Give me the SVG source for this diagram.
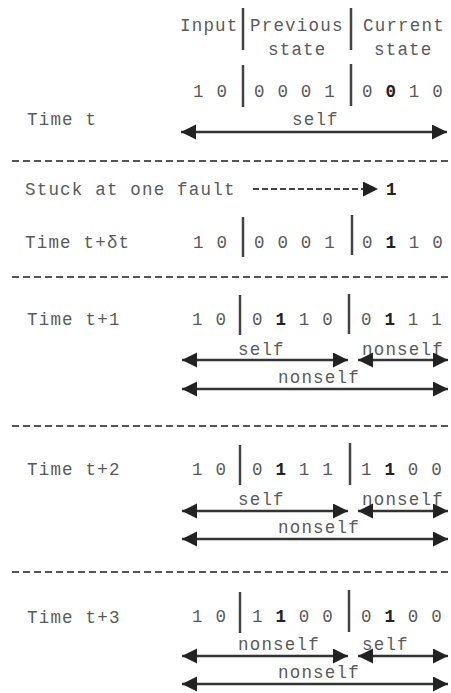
<svg xmlns="http://www.w3.org/2000/svg" width="451" height="693" viewBox="0 0 451 693">
<style>
text{font-family:"Liberation Mono","DejaVu Sans Mono",monospace;font-size:17.5px;letter-spacing:1.2px;fill:#5a5a5a;white-space:pre}
.b{font-weight:bold;fill:#222}
.bar{stroke:#444;stroke-width:2.5}
.arr{stroke:#333;stroke-width:2.5;fill:none;marker-start:url(#ah);marker-end:url(#ah)}
.sep{stroke:#555;stroke-width:2;stroke-dasharray:7 4}
.dar{stroke:#444;stroke-width:2;stroke-dasharray:6 3;marker-end:url(#ah)}
</style>
<defs>
<marker id="ah" markerUnits="userSpaceOnUse" markerWidth="16" markerHeight="16" refX="15" refY="7.5" orient="auto-start-reverse" viewBox="0 0 16 16">
<path d="M0,0 L15,7.5 L0,15 z" fill="#222"/>
</marker>
</defs>
<rect width="451" height="693" fill="#fff"/>
<g id="header">
<text x="180" y="31">Input</text>
<text x="250" y="31">Previous</text>
<text x="363" y="31">Current</text>
<text x="268" y="55">state</text>
<text x="374" y="55">state</text>
<line class="bar" x1="243" y1="8" x2="243" y2="50"/>
<line class="bar" x1="351" y1="8" x2="351" y2="50"/>
</g>
<g id="time-t">
<text x="193" y="97">1 0</text>
<text x="254" y="97">0 0 0 1</text>
<text x="362" y="97">0 <tspan class="b">0</tspan> 1 0</text>
<line class="bar" x1="243" y1="65" x2="243" y2="107"/>
<line class="bar" x1="351" y1="64" x2="351" y2="106"/>
<text x="27" y="125">Time t</text>
<text x="292" y="125">self</text>
</g>
<g id="fault">
<text x="25" y="195">Stuck at one fault</text>
<text class="b" x="386" y="195">1</text>
</g>
<g id="time-tdt">
<text x="25" y="248">Time t+δt</text>
<text x="193" y="248">1 0</text>
<text x="254" y="248">0 0 0 1</text>
<text x="362" y="248">0 <tspan class="b">1</tspan> 1 0</text>
<line class="bar" x1="243" y1="217" x2="243" y2="257"/>
<line class="bar" x1="352" y1="215" x2="352" y2="255"/>
</g>
<g id="time-t1">
<text x="27" y="325">Time t+1</text>
<text x="192" y="325">1 0</text>
<text x="252" y="325">0 <tspan class="b">1</tspan> 1 0</text>
<text x="361" y="325">0 <tspan class="b">1</tspan> 1 1</text>
<line class="bar" x1="240" y1="295" x2="240" y2="335"/>
<line class="bar" x1="349" y1="294" x2="349" y2="334"/>
<text x="238" y="355">self</text>
<text x="362" y="355">nonself</text>
<text x="278" y="383">nonself</text>
</g>
<g id="time-t2">
<text x="27" y="475">Time t+2</text>
<text x="192" y="475">1 0</text>
<text x="252" y="475">0 <tspan class="b">1</tspan> 1 1</text>
<text x="361" y="475">1 <tspan class="b">1</tspan> 0 0</text>
<line class="bar" x1="240" y1="445" x2="240" y2="485"/>
<line class="bar" x1="350" y1="443" x2="350" y2="485"/>
<text x="238" y="505">self</text>
<text x="362" y="505">nonself</text>
<text x="278" y="533">nonself</text>
</g>
<g id="time-t3">
<text x="27" y="623">Time t+3</text>
<text x="192" y="622">1 0</text>
<text x="252" y="622">1 <tspan class="b">1</tspan> 0 0</text>
<text x="361" y="622">0 <tspan class="b">1</tspan> 0 0</text>
<line class="bar" x1="240" y1="592" x2="240" y2="633"/>
<line class="bar" x1="349" y1="590" x2="349" y2="632"/>
<text x="238" y="650">nonself</text>
<text x="362" y="650">self</text>
<text x="278" y="678">nonself</text>
</g>
<g id="connectors">
<line class="arr" x1="181" y1="132" x2="447" y2="132"/>
<line class="sep" x1="12" y1="161" x2="451" y2="161"/>
<line class="dar" x1="253" y1="189" x2="378" y2="189"/>
<line class="sep" x1="12" y1="277" x2="451" y2="277"/>
<line class="arr" x1="182" y1="360" x2="348" y2="360"/>
<line class="arr" x1="358" y1="360" x2="448" y2="360"/>
<line class="arr" x1="182" y1="389" x2="448" y2="389"/>
<line class="sep" x1="12" y1="426" x2="451" y2="426"/>
<line class="arr" x1="182" y1="511" x2="348" y2="511"/>
<line class="arr" x1="358" y1="511" x2="448" y2="511"/>
<line class="arr" x1="182" y1="539" x2="448" y2="539"/>
<line class="sep" x1="12" y1="572" x2="451" y2="572"/>
<line class="arr" x1="182" y1="656" x2="348" y2="656"/>
<line class="arr" x1="358" y1="656" x2="448" y2="656"/>
<line class="arr" x1="182" y1="684" x2="448" y2="684"/>
</g>
</svg>
